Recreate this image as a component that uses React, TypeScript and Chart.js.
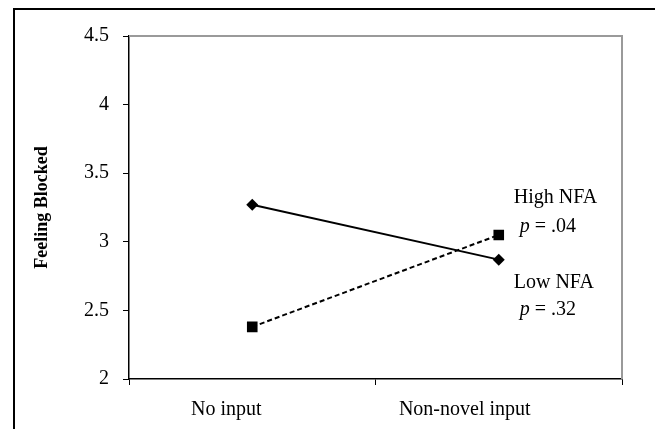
import React, { useEffect, useRef } from "react";
import { Chart, registerables } from "chart.js";

Chart.register(...registerables);

const categories = ["No input", "Non-novel input"];
const solidSeries = [3.27, 2.87];
const dashedSeries = [2.38, 3.05];
const yTicks = [2, 2.5, 3, 3.5, 4, 4.5];
const yTitle = "Feeling Blocked";
const notes = [
  { head: "High NFA", p: " = .04" },
  { head: "Low NFA", p: " = .32" },
];

const FONT = "'Liberation Serif', 'Times New Roman', serif";
const LABEL_SHIFT = [-26, -34];
const NOTE_ROWS = [3.283, 3.075, 2.663, 2.465];

const decorPlugin = {
  id: "decor",
  beforeDraw(chart: any) {
    const ctx = chart.ctx;
    ctx.save();
    ctx.fillStyle = "#ffffff";
    ctx.fillRect(0, 0, chart.width, chart.height);
    ctx.fillStyle = "#000000";
    ctx.fillRect(13, 8, chart.width - 13, 2);
    ctx.fillRect(13, 8, 2, chart.height - 8);
    ctx.restore();
  },
  afterDraw(chart: any) {
    const ctx = chart.ctx;
    const a = chart.chartArea;
    ctx.save();
    ctx.strokeStyle = "#9a9a9a";
    ctx.lineWidth = 2;
    ctx.beginPath();
    ctx.moveTo(a.left, a.top);
    ctx.lineTo(a.right, a.top);
    ctx.lineTo(a.right, a.bottom);
    ctx.stroke();

    // y title
    ctx.fillStyle = "#000";
    ctx.font = `bold 18px ${FONT}`;
    ctx.textAlign = "center";
    ctx.textBaseline = "middle";
    ctx.translate(42, (a.top + a.bottom) / 2);
    ctx.rotate(-Math.PI / 2);
    ctx.fillText(yTitle, 0, 0);
    ctx.restore();

    const xs = chart.scales.x;
    const ys = chart.scales.y;

    // x category labels
    ctx.save();
    ctx.fillStyle = "#000";
    ctx.font = `20px ${FONT}`;
    ctx.textAlign = "center";
    ctx.textBaseline = "alphabetic";
    categories.forEach((c, i) => {
      ctx.fillText(c, xs.getPixelForValue(i) + LABEL_SHIFT[i], a.bottom + 36);
    });
    ctx.restore();

    // annotations
    const x0 = xs.getPixelForValue(1) + 15;
    ctx.save();
    ctx.fillStyle = "#000";
    ctx.textBaseline = "alphabetic";
    ctx.textAlign = "left";
    notes.forEach((n, i) => {
      const yh = ys.getPixelForValue(NOTE_ROWS[i * 2]);
      const yp = ys.getPixelForValue(NOTE_ROWS[i * 2 + 1]);
      ctx.font = `20px ${FONT}`;
      ctx.fillText(n.head, x0, yh);
      ctx.font = `italic 20px ${FONT}`;
      ctx.fillText("p", x0 + 6, yp);
      const w = ctx.measureText("p").width;
      ctx.font = `20px ${FONT}`;
      ctx.fillText(n.p, x0 + 6 + w, yp);
    });
    ctx.restore();
  },
};

export default function App() {
  const ref = useRef<HTMLCanvasElement>(null);
  useEffect(() => {
    document.body.style.margin = "0";
    const chart = new Chart(ref.current!, {
      type: "line",
      data: {
        labels: categories,
        datasets: [
          {
            data: solidSeries,
            borderColor: "#000",
            backgroundColor: "#000",
            borderWidth: 2,
            pointStyle: "rectRot",
            pointRadius: 6,
            pointBorderWidth: 0,
          },
          {
            data: dashedSeries,
            borderColor: "#000",
            backgroundColor: "#000",
            borderWidth: 2,
            borderDash: [5, 3],
            pointStyle: "rect",
            pointRadius: 7.5,
            pointBorderWidth: 0,
          },
        ],
      },
      options: {
        responsive: false,
        animation: false,
        layout: { padding: { left: 0, top: 36, right: 33, bottom: 0 } },
        plugins: { legend: { display: false }, tooltip: { enabled: false } },
        scales: {
          x: {
            offset: true,
            grid: {
              offset: true,
              drawOnChartArea: false,
              drawTicks: true,
              tickLength: 6,
              color: "#000",
            },
            border: { color: "#000", width: 1.5 },
            ticks: { display: false },
            afterFit: (s: any) => {
              s.height = 50;
            },
          },
          y: {
            min: 2,
            max: 4.5,
            afterBuildTicks: (s: any) => {
              s.ticks = yTicks.map((v) => ({ value: v }));
            },
            grid: {
              drawOnChartArea: false,
              drawTicks: true,
              tickLength: 6,
              color: "#000",
            },
            border: { color: "#000", width: 1.5 },
            ticks: {
              color: "#000",
              font: { family: FONT, size: 20 },
              padding: 14,
              callback: (v: any) => String(v),
            },
            afterFit: (s: any) => {
              s.width = 129;
            },
          },
        },
      },
      plugins: [decorPlugin],
    });
    return () => chart.destroy();
  }, []);
  return (
    <div style={{ position: "absolute", left: 0, top: 0, width: 655, height: 429 }}>
      <canvas ref={ref} width={655} height={429} />
    </div>
  );
}
